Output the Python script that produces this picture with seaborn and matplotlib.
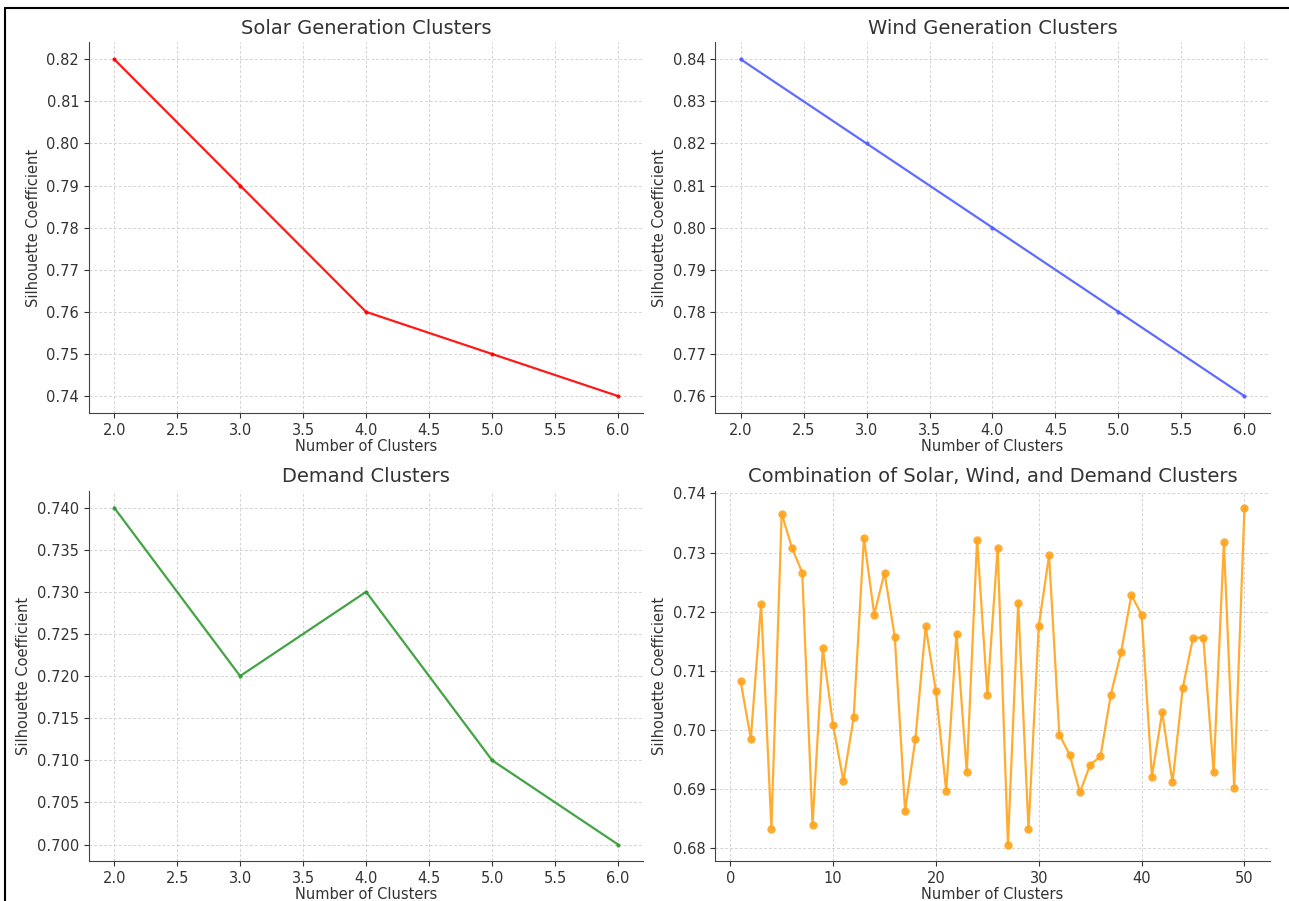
import matplotlib
matplotlib.use("Agg")
import matplotlib.pyplot as plt
import seaborn as sns
import pandas as pd
from matplotlib.lines import Line2D

# Cluster counts and silhouette scores
clusters = [2, 3, 4, 5, 6]
solar_scores = [0.82, 0.79, 0.76, 0.75, 0.74]
wind_scores = [0.84, 0.82, 0.80, 0.78, 0.76]
demand_scores = [0.74, 0.72, 0.73, 0.71, 0.70]

combo_clusters = list(range(1, 51))
combo_scores = [
    0.7083, 0.6985, 0.7213, 0.6833, 0.7366, 0.7308, 0.7266, 0.6839, 0.7138, 0.7008,
    0.6914, 0.7021, 0.7325, 0.7195, 0.7266, 0.7157, 0.6862, 0.6984, 0.7175, 0.7065,
    0.6896, 0.7163, 0.6928, 0.7322, 0.7059, 0.7308, 0.6806, 0.7215, 0.6832, 0.7176,
    0.7295, 0.6992, 0.6958, 0.6894, 0.6941, 0.6955, 0.7059, 0.7131, 0.7228, 0.7195,
    0.6921, 0.7030, 0.6911, 0.7071, 0.7156, 0.7156, 0.6928, 0.7318, 0.6902, 0.7376,
]

sns.set_style("ticks", {"axes.grid": True, "axes.edgecolor": "#444444"})
plt.rcParams["font.family"] = ["DejaVu Sans"]

fig, axes = plt.subplots(2, 2, figsize=(12.89, 9.01), dpi=100)
fig.subplots_adjust(left=0.069, right=0.985, top=0.953, bottom=0.044,
                    wspace=0.13, hspace=0.21)

panels = [
    (axes[0, 0], clusters, solar_scores, "red", "Solar Generation Clusters", 3),
    (axes[0, 1], clusters, wind_scores, "#4d5cff", "Wind Generation Clusters", 3),
    (axes[1, 0], clusters, demand_scores, "#2e9a2e", "Demand Clusters", 3),
    (axes[1, 1], combo_clusters, combo_scores, "#ffa31a",
     "Combination of Solar, Wind, and Demand Clusters", 6),
]

for ax, xs, ys, color, title, ms in panels:
    df = pd.DataFrame({"Number of Clusters": xs, "Silhouette Coefficient": ys})
    sns.lineplot(data=df, x="Number of Clusters", y="Silhouette Coefficient",
                 ax=ax, color=color, marker="o", markersize=ms,
                 markeredgewidth=0, linewidth=1.6, alpha=0.9)
    ax.set_title(title, fontsize=14, color="#333333")
    ax.set_xlabel("Number of Clusters", fontsize=10.5, color="#333333", labelpad=1)
    ax.set_ylabel("Silhouette Coefficient", fontsize=10.5, color="#333333")
    ax.tick_params(labelsize=10.5, colors="#333333")
    ax.grid(True, linestyle=(0, (3, 2)), color="#d4d4d4", linewidth=0.7)
    sns.despine(ax=ax)

axes[1, 0].yaxis.set_major_formatter(matplotlib.ticker.FormatStrFormatter("%.3f"))

# screenshot frame lines at top and left
fig.add_artist(Line2D([0.004, 1.0], [0.991, 0.991], color="black", linewidth=1.5,
                      transform=fig.transFigure))
fig.add_artist(Line2D([0.004, 0.004], [0.0, 0.991], color="black", linewidth=1.5,
                      transform=fig.transFigure))

fig.savefig("out.png", dpi=100)
